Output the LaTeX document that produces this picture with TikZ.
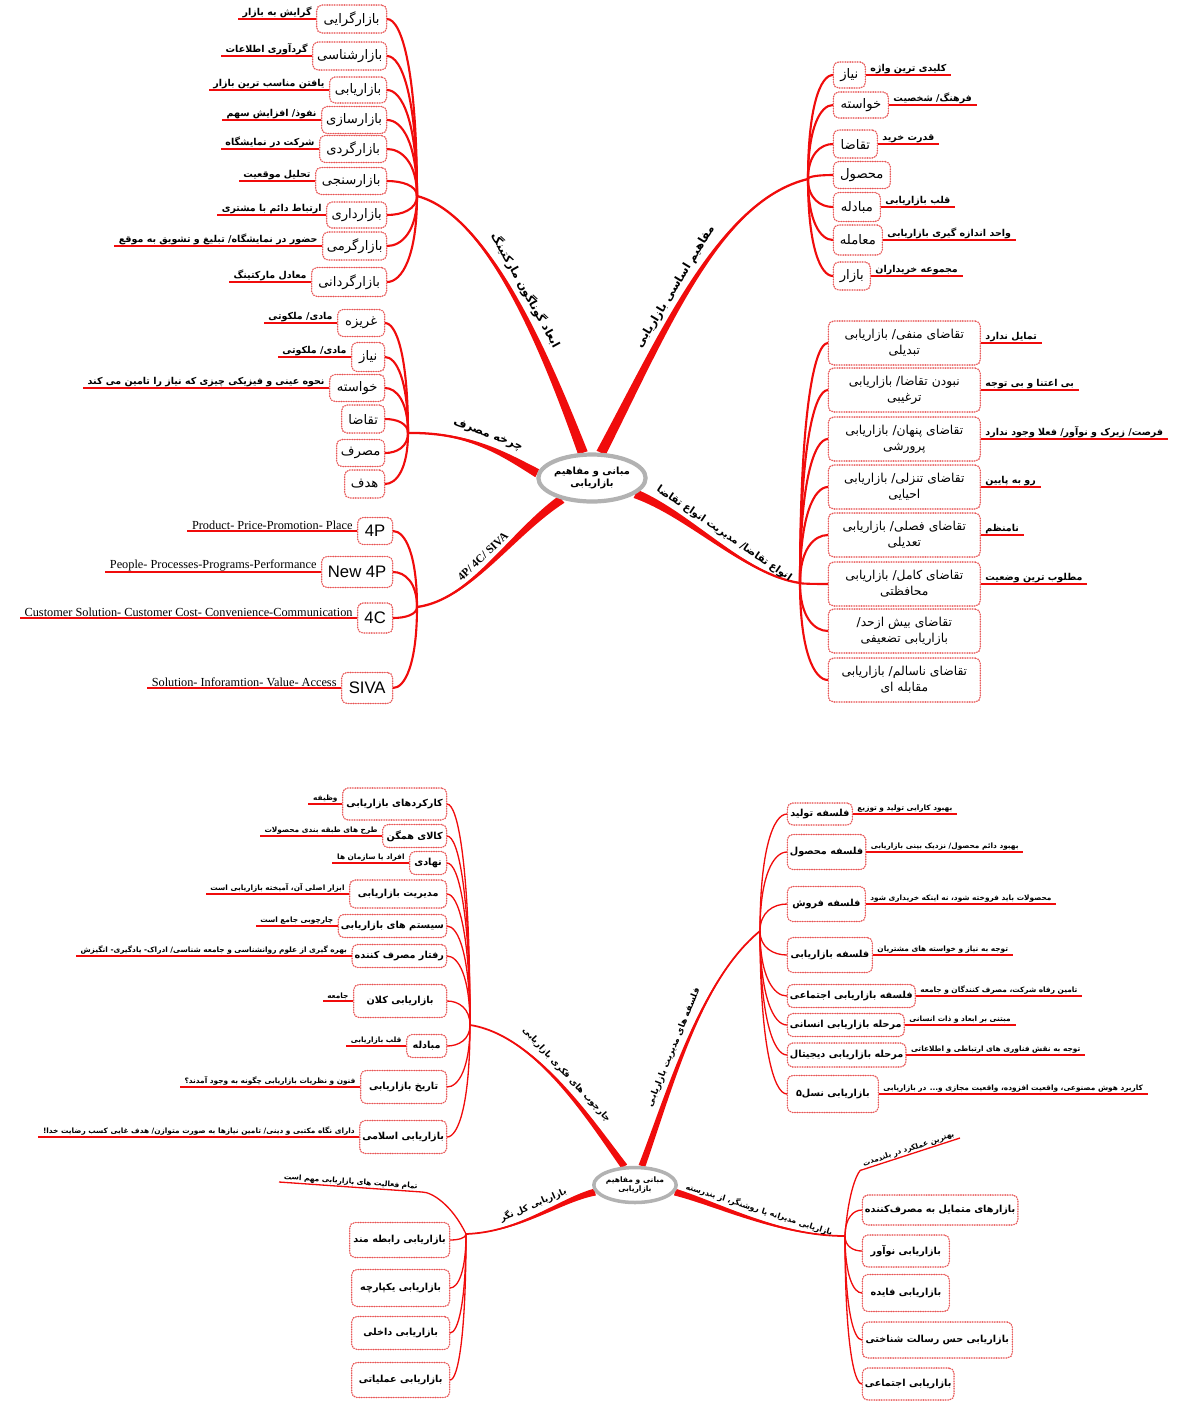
\documentclass[tikz,border=0pt]{standalone}
\usepackage{fontspec}
\setmainfont{Liberation Serif}
\newfontfamily\persian[Script=Arabic]{DejaVu Sans}
\newfontfamily\arial{Liberation Sans}
\usetikzlibrary{calc,shapes.geometric,backgrounds}
\TeXXeTstate=1
\definecolor{mapred}{RGB}{240,12,12}
\definecolor{boxred}{RGB}{232,85,85}
\newcommand\fa[1]{{\persian\beginR#1\endR}}
% thin curve from a hub into the side of a box
\newcommand\twig[2]{\draw[twigline] (#1) .. controls ($(#1)!0.7!(#1|-#2)$) and ($(#2)!0.5!(#2-|#1)$) .. (#2);}
% tapering main branch: centre anchor, controls, hub, half width, title, name, pos
\newcommand\limb[8]{%
  \fill[mapred] ($(#1)+(#5)$) .. controls ($(#2)+0.6*(#5)$) and ($(#3)+0.25*(#5)$) .. (#4)
    .. controls ($(#3)-0.25*(#5)$) and ($(#2)-0.6*(#5)$) .. ($(#1)-(#5)$) -- cycle;
  \draw[limbline] (#1) .. controls (#2) and (#3) .. (#4)
    node[limbtext, pos=#8, sloped, above=2pt] (#7) {#6};}

\begin{document}
\begin{tikzpicture}[x=0.02cm, y=-0.02cm,
    box/.style     ={fill=white, draw=boxred!55, line width=0.4pt, rounded corners=3pt, inner sep=1.5pt,
                     postaction={draw=boxred, line width=0.9pt, line cap=round,
                                 dash pattern=on 0pt off 1.4pt},
                     font=\fontsize{7.5}{9}\selectfont},
    twoline/.style ={align=center, minimum width=3.04cm, minimum height=0.88cm,
                     font=\fontsize{7}{9}\selectfont},
    note/.style    ={inner xsep=2.5pt, inner ysep=0.5pt, font=\bfseries\fontsize{5.4}{6.5}\selectfont},
    noteline/.style={mapred, line width=1.2pt},
    twigline/.style={mapred, line width=1.2pt},
    limbline/.style={mapred, line width=1.3pt},
    limbtext/.style={inner sep=1pt, text=black, font=\persian\bfseries\fontsize{6.5}{7}\selectfont},
    core/.style    ={ellipse, draw=gray!60, line width=2.4pt, fill=white, align=center, inner sep=0pt}]
  \useasboundingbox (0,0) rectangle (1179,1401);

  %% upper map
  \node[core, minimum width=1.9cm, minimum height=0.94cm,
        font=\bfseries\fontsize{5.6}{7}\selectfont] (ctop) at (592,478)
        {\fa{مبانی و مفاهیم}\\\fa{بازاریابی}};
  \coordinate (hA) at (417,196);
  \coordinate (hB) at (808,179);
  \coordinate (hC) at (408,433);
  \coordinate (hD) at (417,607);
  \coordinate (hE) at (800,583);
  \begin{scope}[on background layer]
    \limb{ctop.110}{548,360}{490,215}{hA}{4.8,-1.5}{\fa{ابعاد گوناگون مارکتینگ}}{tA}{0.5}
    \limb{ctop.70}{665,330}{720,200}{hB}{4.6,2}{\fa{مفاهیم اساسی بازاریابی}}{tB}{0.45}
    \limb{ctop.175}{505,455}{470,432}{hC}{1.9,-4}{\fa{چرخه مصرف}}{tC}{0.5}
    \limb{ctop.215}{510,535}{470,600}{hD}{3,3.3}{\rmfamily\bfseries 4P/ 4C/ SIVA}{tD}{0.5}
    \limb{ctop.340}{690,515}{745,575}{hE}{2.1,-4}{\fontsize{5.8}{6.5}\selectfont\fa{انواع تقاضا/ مدیریت انواع تقاضا}}{tE}{0.5}
  \end{scope}

  % marketing dimensions
  \foreach \k/\yy/\ww/\hh/\nm/\nt in {
      1/19/70/28/بازارگرایی/گرایش به بازار,
      2/56/74/28/بازارشناسی/گردآوری اطلاعات,
      3/90/57/26/بازاریابی/یافتن مناسب ترین بازار,
      4/120/65/27/بازارسازی/{نفوذ/ افزایش سهم},
      5/149/67/27/بازارگردی/شرکت در نمایشگاه,
      6/181/71/27/بازارسنجی/تحلیل موقعیت,
      7/215/60/26/بازارداری/ارتباط دائم با مشتری,
      8/246/64/28/بازارگرمی/{حضور در نمایشگاه/ تبلیغ و تشویق به موقع},
      9/282/75/29/بازارگردانی/معادل مارکتینگ}{
    \node[box, anchor=east, minimum width=\ww*0.02cm, minimum height=\hh*0.02cm] (a\k) at (387,\yy) {\fa{\nm}};
    \node[note, anchor=south east] (na\k) at (a\k.west) {\fa{\nt}};
    \draw[noteline] (a\k.west) -- (na\k.south west);
    \twig{hA}{a\k.east}
  }

  % basic concepts
  \foreach \k/\yy/\ww/\hh/\nm/\nt in {
      1/75/32/26/نیاز/کلیدی ترین واژه,
      2/105/55/26/خواسته/{فرهنگ/ شخصیت},
      3/144/44/28/تقاضا/قدرت خرید,
      5/207/47/29/مبادله/قلب بازاریابی,
      6/240/49/30/معامله/واحد اندازه گیری بازاریابی,
      7/276/37/28/بازار/مجموعه خریداران}{
    \node[box, anchor=west, minimum width=\ww*0.02cm, minimum height=\hh*0.02cm] (b\k) at (833,\yy) {\fa{\nm}};
    \node[note, anchor=south west] (nb\k) at (b\k.east) {\fa{\nt}};
    \draw[noteline] (b\k.east) -- (nb\k.south east);
    \twig{hB}{b\k.west}
  }
  \node[box, anchor=west, minimum width=1.14cm, minimum height=0.54cm] (b4) at (833,175) {\fa{محصول}};
  \twig{hB}{b4.west}

  % consumption cycle
  \foreach \k/\yy/\ww/\hh/\nm/\nt in {
      1/323/47/27/غریزه/{مادی/ ملکوتی},
      2/357/33/29/نیاز/{مادی/ ملکوتی},
      3/388/55/27/خواسته/نحوه عینی و فیزیکی چیزی که نیاز را تامین می کند}{
    \node[box, anchor=east, minimum width=\ww*0.02cm, minimum height=\hh*0.02cm] (c\k) at (385,\yy) {\fa{\nm}};
    \node[note, anchor=south east] (nc\k) at (c\k.west) {\fa{\nt}};
    \draw[noteline] (c\k.west) -- (nc\k.south west);
    \twig{hC}{c\k.east}
  }
  \foreach \k/\yy/\ww/\hh/\nm in {4/419/43/28/تقاضا, 5/453/48/27/مصرف, 6/484/40/28/هدف}{
    \node[box, anchor=east, minimum width=\ww*0.02cm, minimum height=\hh*0.02cm] (c\k) at (385,\yy) {\fa{\nm}};
    \twig{hC}{c\k.east}
  }

  % mixes
  \foreach \k/\yy/\ww/\hh/\nm/\nt in {
      1/531/35/27/4P/Product- Price-Promotion- Place,
      2/572/71/31/New 4P/People- Processes-Programs-Performance,
      3/618/35/30/4C/Customer Solution- Customer Cost- Convenience-Communication,
      4/688/51/31/SIVA/Solution- Inforamtion- Value- Access}{
    \node[box, anchor=east, font=\arial\fontsize{9.5}{11}\selectfont,
          minimum width=\ww*0.02cm, minimum height=\hh*0.02cm] (d\k) at (393,\yy) {\nm};
    \node[note, anchor=south east, font=\fontsize{7}{8}\selectfont] (nd\k) at (d\k.west) {\nt};
    \draw[noteline] (d\k.west) -- (nd\k.south west);
    \twig{hD}{d\k.east}
  }

  % demand states
  \foreach \k/\yy/\nm/\nn/\nt in {
      1/343/{تقاضای منفی/ بازاریابی}/تبدیلی/تمایل ندارد,
      2/390/{نبودن تقاضا/ بازاریابی}/ترغیبی/بی اعتنا و بی توجه,
      3/439/{تقاضای پنهان/ بازاریابی}/پرورشی/{فرصت/ زیرک و نوآور/ فعلا وجود ندارد},
      4/487/{تقاضای تنزلی/ بازاریابی}/احیایی/رو به پایین,
      5/535/{تقاضای فصلی/ بازاریابی}/تعدیلی/نامنظم,
      6/584/{تقاضای کامل/ بازاریابی}/محافظتی/مطلوب ترین وضعیت}{
    \node[box, twoline, anchor=west] (e\k) at (828,\yy) {\fa{\nm}\\\fa{\nn}};
    \node[note, anchor=south west] (ne\k) at (e\k.east) {\fa{\nt}};
    \draw[noteline] (e\k.east) -- (ne\k.south east);
    \twig{hE}{e\k.west}
  }
  \node[box, twoline, anchor=west] (e7) at (828,631) {\fa{تقاضای بیش ازحد/}\\\fa{بازاریابی تضعیفی}};
  \node[box, twoline, anchor=west] (e8) at (828,680) {\fa{تقاضای ناسالم/ بازاریابی}\\\fa{مقابله ای}};
  \twig{hE}{e7.west}
  \twig{hE}{e8.west}

  %% lower map
  \begin{scope}[box/.append style={font=\bfseries\fontsize{5.5}{7}\selectfont},
                note/.append style={font=\bfseries\fontsize{4.2}{5}\selectfont},
                noteline/.style={mapred, line width=0.8pt},
                twigline/.style={mapred, line width=0.75pt},
                limbline/.style={mapred, line width=1pt},
                limbtext/.append style={font=\persian\bfseries\fontsize{5}{6}\selectfont}]
  \node[core, line width=2pt, minimum width=1.4cm, minimum height=0.7cm,
        font=\bfseries\fontsize{4.3}{5.2}\selectfont] (cbot) at (635,1185)
        {\fa{مبانی و مفاهیم}\\\fa{بازاریابی}};
  \coordinate (hF) at (470,1025);
  \coordinate (hG) at (760,931);
  \coordinate (hH) at (466,1234);
  \coordinate (hI) at (845,1236);
  \begin{scope}[on background layer]
    \limb{cbot.120}{590,1120}{535,1035}{hF}{3,-1.8}{\fa{چارچوب های فکری بازاریابی}}{tF}{0.5}
    \limb{cbot.70}{670,1090}{700,980}{hG}{3.3,1}{\fa{فلسفه های مدیریت بازاریابی}}{tG}{0.45}
    \limb{cbot.190}{560,1200}{520,1232}{hH}{0.85,3.4}{\fa{بازاریابی کل نگر}}{tH}{0.5}
    \limb{cbot.350}{720,1205}{780,1236}{hI}{1,-3.3}{\fontsize{4.5}{5}\selectfont\fa{بازاریابی مدیرانه یا روشنگر، از بندرسته}}{tI}{0.52}
  \end{scope}

  % frameworks
  \foreach \k/\yy/\ww/\hh/\nm/\nt in {
      1/804/104/32/کارکردهای بازاریابی/وظیفه,
      2/836/64/23/کالای همگن/طرح های طبقه بندی محصولات,
      3/863/37/23/نهادی/افراد یا سازمان ها,
      4/894/97/28/مدیریت بازاریابی/ابزار اصلی آن، آمیخته بازاریابی است,
      5/926/102/23/سیستم های بازاریابی/چارچوبی جامع است,
      6/956/92/23/رفتار مصرف کننده/{بهره گیری از علوم روانشناسی و جامعه شناسی/ ادراک- یادگیری- انگیزش},
      7/1001/93/33/بازاریابی کلان/جامعه,
      8/1046/40/23/مبادله/قلب بازاریابی,
      9/1087/86/33/تاریخ بازاریابی/فنون و نظریات بازاریابی چگونه به وجود آمدند؟,
      10/1137/86/33/بازاریابی اسلامی/{دارای نگاه مکتبی و دینی/ تامین نیازها به صورت متوازن/ هدف غایی کسب رضایت خدا!}}{
    \node[box, anchor=east, minimum width=\ww*0.02cm, minimum height=\hh*0.02cm] (f\k) at (447,\yy) {\fa{\nm}};
    \node[note, anchor=south east] (nf\k) at (f\k.west) {\fa{\nt}};
    \draw[noteline] (f\k.west) -- (nf\k.south west);
    \twig{hF}{f\k.east}
  }

  % management philosophies
  \foreach \k/\yy/\ww/\hh/\nm/\nt in {
      1/814/65/22/فلسفه تولید/بهبود کارایی تولید و توزیع,
      2/852/78/35/فلسفه محصول/{بهبود دائم محصول/ نزدیک بینی بازاریابی},
      3/904/78/35/فلسفه فروش/محصولات باید فروخته شود، نه اینکه خریداری شود,
      4/955/85/35/فلسفه بازاریابی/توجه به نیاز و خواسته های مشتریان,
      5/996/118/23/فلسفه بازاریابی اجتماعی/تامین رفاه شرکت، مصرف کنندگان و جامعه,
      6/1025/110/23/مرحله بازاریابی انسانی/مبتنی بر ابعاد و ذات انسانی,
      7/1055/115/24/مرحله بازاریابی دیجیتال/توجه به نقش فناوری های ارتباطی و اطلاعاتی,
      8/1094/91/37/بازاریابی نسل۵/{کاربرد هوش مصنوعی، واقعیت افزوده، واقعیت مجازی و... در بازاریابی}}{
    \node[box, anchor=west, minimum width=\ww*0.02cm, minimum height=\hh*0.02cm] (g\k) at (787,\yy) {\fa{\nm}};
    \node[note, anchor=south west] (ng\k) at (g\k.east) {\fa{\nt}};
    \draw[noteline] (g\k.east) -- (ng\k.south east);
    \twig{hG}{g\k.west}
  }

  % holistic marketing
  \node[note, rotate=-4, anchor=south west] (nh0) at (279,1182) {\fa{تمام فعالیت های بازاریابی مهم است}};
  \draw[twigline] (hH) .. controls (452,1205) and (432,1192) .. (nh0.south east) -- (nh0.south west);
  \foreach \k/\yy/\ww/\hh/\nm in {
      1/1240/100/35/بازاریابی رابطه مند,
      2/1288/98/37/بازاریابی یکپارچه,
      3/1333/98/33/بازاریابی داخلی,
      4/1380/98/35/بازاریابی عملیاتی}{
    \node[box, anchor=east, minimum width=\ww*0.02cm, minimum height=\hh*0.02cm] (h\k) at (450,\yy) {\fa{\nm}};
    \twig{hH}{h\k.east}
  }

  % enlightened marketing
  \node[note, rotate=18, anchor=south east] (ni0) at (960,1138) {\fa{بهترین عملکرد در بلندمدت}};
  \draw[twigline] (hI) .. controls (848,1195) and (856,1175) .. (ni0.south west) -- (ni0.south east);
  \foreach \k/\yy/\ww/\hh/\nm in {
      1/1210/150/30/بازارهای متمایل به مصرف‌کننده,
      2/1251/87/32/بازاریابی نوآور,
      3/1293/87/37/بازاریابی فایده,
      4/1340/150/36/بازاریابی حس رسالت شناختی,
      5/1384/87/32/بازاریابی اجتماعی}{
    \node[box, anchor=west, minimum width=\ww*0.02cm, minimum height=\hh*0.02cm] (i\k) at (862,\yy) {\fa{\nm}};
    \twig{hI}{i\k.west}
  }
  \end{scope}
\end{tikzpicture}
\end{document}
